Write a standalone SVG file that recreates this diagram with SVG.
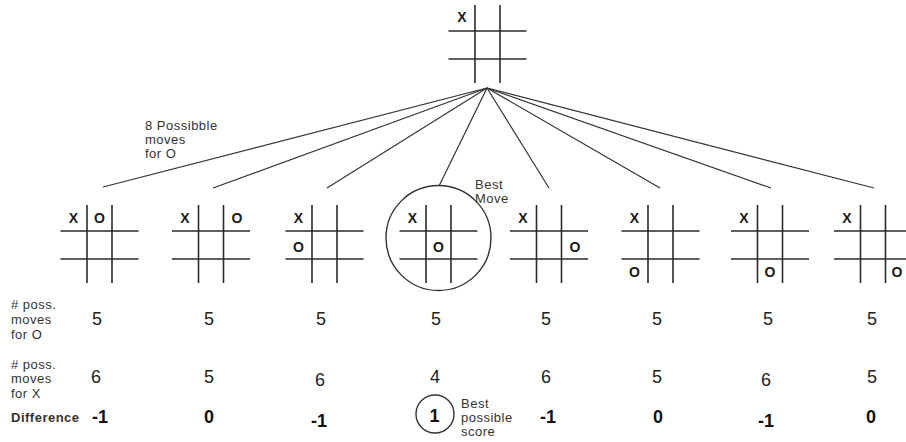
<svg xmlns="http://www.w3.org/2000/svg" width="906" height="442" viewBox="0 0 906 442">
<style>
.g line{stroke:#2a2a2a;stroke-width:1.6}
.m{font-family:"Liberation Sans",Arial,sans-serif;font-weight:bold;font-size:14px;fill:#1a1a1a;text-anchor:middle}
.lbl{font-family:"Liberation Sans",Arial,sans-serif;font-size:13px;letter-spacing:0.5px;fill:#333}
.n{font-family:"Liberation Sans",Arial,sans-serif;font-size:18px;fill:#222;text-anchor:middle}
.b{font-family:"Liberation Sans",Arial,sans-serif;font-size:18px;font-weight:bold;fill:#111;text-anchor:middle}
.c line{stroke:#333;stroke-width:1.2}
</style>
<defs>
<g id="board" class="g">
<line x1="-12.5" y1="0" x2="-12.5" y2="78"/>
<line x1="12.5" y1="0" x2="12.5" y2="78"/>
<line x1="-39" y1="26" x2="39" y2="26"/>
<line x1="-39" y1="54" x2="39" y2="54"/>
</g>
</defs>
<rect width="906" height="442" fill="#fff"/>

<g id="connectors" class="c">
<line x1="487" y1="88" x2="103" y2="187"/>
<line x1="487" y1="88" x2="213" y2="188"/>
<line x1="487" y1="88" x2="327" y2="188"/>
<line x1="487" y1="88" x2="439" y2="186"/>
<line x1="487" y1="88" x2="549" y2="188"/>
<line x1="487" y1="88" x2="660" y2="188"/>
<line x1="487" y1="88" x2="771" y2="188"/>
<line x1="487" y1="88" x2="874" y2="188"/>
</g>

<g id="root">
<use href="#board" x="487.5" y="5"/>
<text class="m" x="462" y="22">X</text>
</g>

<text class="lbl" x="145" y="130">8 Possibble</text>
<text class="lbl" x="145" y="144">moves</text>
<text class="lbl" x="145" y="158">for O</text>

<g id="b1">
<use href="#board" x="99.5" y="205"/>
<text class="m" x="73.5" y="223">X</text>
<text class="m" x="99.5" y="223">O</text>
</g>
<g id="b2">
<use href="#board" x="211" y="205"/>
<text class="m" x="185" y="223">X</text>
<text class="m" x="237" y="223">O</text>
</g>
<g id="b3">
<use href="#board" x="324.5" y="205"/>
<text class="m" x="298.5" y="223">X</text>
<text class="m" x="298.5" y="252">O</text>
</g>
<g id="b4">
<circle cx="438.5" cy="238" r="52.5" fill="none" stroke="#333" stroke-width="1.4"/>
<use href="#board" x="438.5" y="205"/>
<text class="m" x="412.5" y="223">X</text>
<text class="m" x="438.5" y="252">O</text>
<text class="lbl" x="475" y="189">Best</text>
<text class="lbl" x="475" y="203">Move</text>
</g>
<g id="b5">
<use href="#board" x="549" y="205"/>
<text class="m" x="523" y="223">X</text>
<text class="m" x="575" y="252">O</text>
</g>
<g id="b6">
<use href="#board" x="660.5" y="205"/>
<text class="m" x="634.5" y="223">X</text>
<text class="m" x="634.5" y="277">O</text>
</g>
<g id="b7">
<use href="#board" x="770" y="205"/>
<text class="m" x="744" y="223">X</text>
<text class="m" x="770" y="277">O</text>
</g>
<g id="b8">
<use href="#board" x="873" y="205"/>
<text class="m" x="847" y="223">X</text>
<text class="m" x="897" y="277">O</text>
</g>

<g id="row-labels">
<text class="lbl" x="11" y="309"># poss.</text>
<text class="lbl" x="11" y="324">moves</text>
<text class="lbl" x="11" y="339">for O</text>
<text class="lbl" x="11" y="369"># poss.</text>
<text class="lbl" x="11" y="383">moves</text>
<text class="lbl" x="11" y="398">for X</text>
<text class="lbl" x="11" y="422" font-weight="bold" fill="#111">Difference</text>
</g>

<g id="row-o">
<text class="n" x="97" y="325">5</text>
<text class="n" x="209" y="325">5</text>
<text class="n" x="321" y="325">5</text>
<text class="n" x="436" y="325">5</text>
<text class="n" x="546" y="325">5</text>
<text class="n" x="657" y="325">5</text>
<text class="n" x="768" y="325">5</text>
<text class="n" x="872" y="325">5</text>
</g>
<g id="row-x">
<text class="n" x="96" y="383">6</text>
<text class="n" x="209" y="383">5</text>
<text class="n" x="320" y="386">6</text>
<text class="n" x="435" y="383">4</text>
<text class="n" x="546" y="383">6</text>
<text class="n" x="657" y="383">5</text>
<text class="n" x="766" y="386">6</text>
<text class="n" x="872" y="383">5</text>
</g>
<g id="row-diff">
<text class="b" x="100" y="423">-1</text>
<text class="b" x="209" y="423">0</text>
<text class="b" x="319" y="427">-1</text>
<circle cx="435" cy="414" r="19" fill="none" stroke="#333" stroke-width="1.4"/>
<text class="b" x="434.5" y="422">1</text>
<text class="lbl" x="461" y="408">Best</text>
<text class="lbl" x="461" y="422">possible</text>
<text class="lbl" x="461" y="436">score</text>
<text class="b" x="548" y="423">-1</text>
<text class="b" x="658" y="423">0</text>
<text class="b" x="766" y="427">-1</text>
<text class="b" x="871" y="423">0</text>
</g>
</svg>
